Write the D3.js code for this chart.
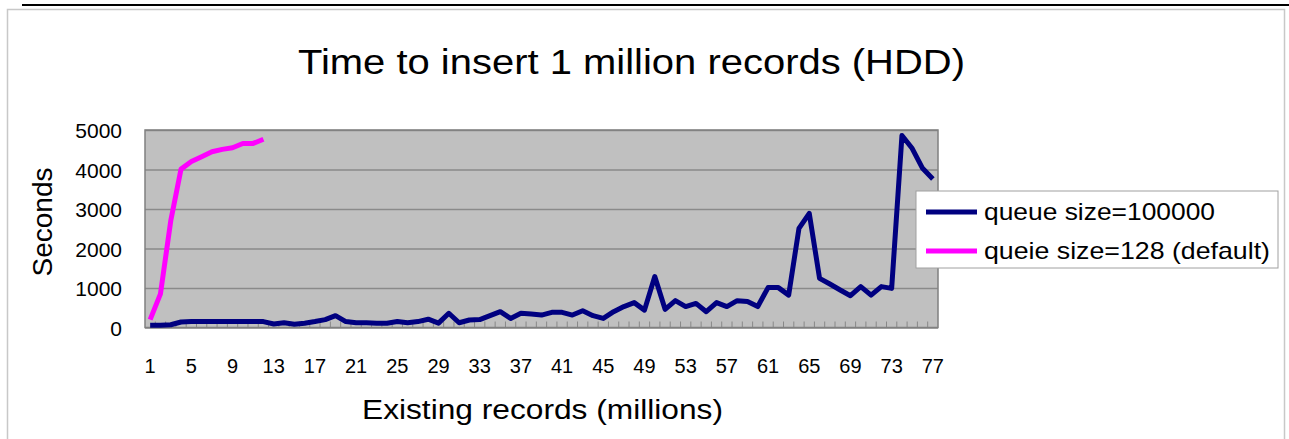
<!DOCTYPE html>
<html>
<head>
<meta charset="utf-8">
<script src="https://cdn.jsdelivr.net/npm/d3@7"></script>
<style>
  body { margin: 0; background: #fff; }
  svg { display: block; }
  text { font-family: "Liberation Sans", Arial, sans-serif; fill: #000; }
</style>
</head>
<body>
<svg id="chart" width="1289" height="439"></svg>
<script>
// Chart text
const chartTitle = "Time to insert 1 million records (HDD)";
const xAxisTitle = "Existing records (millions)";
const yAxisTitle = "Seconds";

// Existing records in the table before each 1M-row insert (millions)
const categories = d3.range(1, 78);

// Seconds per 1M-row insert
const seriesNames = ["queue size=100000", "queie size=128 (default)"];
const queue100000 = [
  60, 60, 70, 140, 150, 150, 150, 150, 150, 150,
  150, 150, 90, 120, 80, 110, 150, 200, 300, 150,
  120, 120, 110, 110, 150, 120, 150, 210, 110, 360,
  120, 190, 200, 300, 400, 230, 360, 340, 315, 385,
  385, 315, 425, 300, 230, 400, 530, 630, 440, 1290,
  460, 680, 530, 610, 400, 630, 530, 680, 660, 530,
  1010, 1010, 820, 2510, 2890, 1245, 1100, 950, 805, 1035,
  820, 1035, 990, 4860, 4530, 4030, 3760
];
const queue128 = [200, 850, 2700, 4010, 4200, 4325, 4450, 4510, 4550, 4660, 4660, 4765];
const seriesColors = ["#000080", "#ff00ff"];

// Axis ticks
const yTicks = [0, 1000, 2000, 3000, 4000, 5000];
const xTickLabels = [1, 5, 9, 13, 17, 21, 25, 29, 33, 37, 41, 45, 49, 53, 57, 61, 65, 69, 73, 77];

const svg = d3.select("#chart");

// Page rule and chart frame
svg.append("line")
  .attr("x1", 22).attr("x2", 1289).attr("y1", 5).attr("y2", 5)
  .attr("stroke", "#000").attr("stroke-width", 2);
svg.append("rect")
  .attr("x", 7.5).attr("y", 9.5).attr("width", 1277).attr("height", 440)
  .attr("fill", "#fff").attr("stroke", "#c8c8c8").attr("stroke-width", 1.5);

// Plot area
const plot = { left: 145, right: 938, top: 130, bottom: 327.5 };

const x = d3.scaleBand()
  .domain(categories)
  .range([plot.left, plot.right])
  .padding(0);
const cx = d => x(d) + x.bandwidth() / 2;

const y = d3.scaleLinear()
  .domain([0, 5000])
  .range([plot.bottom, plot.top]);

svg.append("rect")
  .attr("x", plot.left).attr("y", plot.top)
  .attr("width", plot.right - plot.left).attr("height", plot.bottom - plot.top)
  .attr("fill", "#c0c0c0");

// Horizontal gridlines
const grid = svg.append("g")
  .attr("transform", `translate(${plot.left},0)`)
  .call(d3.axisLeft(y).tickValues(yTicks).tickSize(-(plot.right - plot.left)).tickFormat(""));
grid.select(".domain").remove();
grid.selectAll(".tick line").attr("stroke", "#8a8a8a").attr("stroke-width", 1.5);

// Category tick marks on the bottom edge, between categories
svg.append("g").selectAll("line")
  .data(categories.slice(1))
  .join("line")
  .attr("x1", d => x(d)).attr("x2", d => x(d))
  .attr("y1", plot.bottom).attr("y2", plot.bottom - 6)
  .attr("stroke", "#888").attr("stroke-width", 1);

// Plot border
svg.append("rect")
  .attr("x", plot.left).attr("y", plot.top)
  .attr("width", plot.right - plot.left).attr("height", plot.bottom - plot.top)
  .attr("fill", "none").attr("stroke", "#808080").attr("stroke-width", 1.5);

// Y tick labels
const yAxis = svg.append("g")
  .attr("transform", `translate(${plot.left - 23},1)`)
  .call(d3.axisLeft(y).tickValues(yTicks).tickSize(0).tickPadding(0).tickFormat(d3.format("d")));
yAxis.select(".domain").remove();
yAxis.selectAll("text")
  .style("font-family", '"Liberation Sans", Arial, sans-serif')
  .style("font-size", "21px")
  .attr("fill", "#000");

// X tick labels
const xAxis = svg.append("g")
  .attr("transform", `translate(0,${plot.bottom + 31})`)
  .call(d3.axisBottom(x).tickValues(xTickLabels).tickSize(0).tickPadding(0));
xAxis.select(".domain").remove();
xAxis.selectAll("text")
  .style("font-family", '"Liberation Sans", Arial, sans-serif')
  .style("font-size", "20px")
  .attr("fill", "#000");

// Series lines
const line = d3.line()
  .x((d, i) => cx(categories[i]))
  .y(d => y(d));

[queue100000, queue128].forEach((values, k) => {
  svg.append("path")
    .datum(values)
    .attr("d", line)
    .attr("fill", "none")
    .attr("stroke", seriesColors[k])
    .attr("stroke-width", 5)
    .attr("stroke-linejoin", "round");
});

// Titles
svg.append("text")
  .attr("x", 298).attr("y", 74)
  .attr("textLength", 667).attr("lengthAdjust", "spacingAndGlyphs")
  .style("font-size", "35px")
  .text(chartTitle);

svg.append("text")
  .attr("x", 362).attr("y", 419)
  .attr("textLength", 361).attr("lengthAdjust", "spacingAndGlyphs")
  .style("font-size", "27px")
  .text(xAxisTitle);

svg.append("text")
  .attr("transform", "translate(52,222) rotate(-90)")
  .attr("text-anchor", "middle")
  .style("font-size", "28px")
  .text(yAxisTitle);

// Legend
const legend = svg.append("g");
legend.append("rect")
  .attr("x", 916).attr("y", 191).attr("width", 362).attr("height", 77)
  .attr("fill", "#fff").attr("stroke", "#a0a0a0").attr("stroke-width", 1);

const legendRows = [
  { name: seriesNames[0], color: seriesColors[0], y: 212, width: 231 },
  { name: seriesNames[1], color: seriesColors[1], y: 251, width: 286 }
];
legendRows.forEach(r => {
  legend.append("line")
    .attr("x1", 926).attr("x2", 977).attr("y1", r.y).attr("y2", r.y)
    .attr("stroke", r.color).attr("stroke-width", 5);
  legend.append("text")
    .attr("x", 984).attr("y", r.y + 8)
    .attr("textLength", r.width).attr("lengthAdjust", "spacingAndGlyphs")
    .style("font-size", "24px")
    .text(r.name);
});
</script>
</body>
</html>
